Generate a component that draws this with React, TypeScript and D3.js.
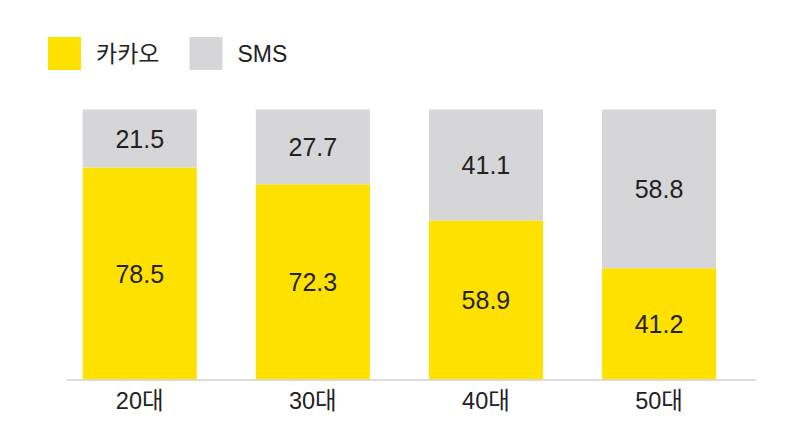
import React from "react";
import * as d3 from "d3";

const categories = ["20대", "30대", "40대", "50대"];
const kakaoValues = [78.5, 72.3, 58.9, 41.2];
const smsValues = [21.5, 27.7, 41.1, 58.8];
const seriesNames = ["카카오", "SMS"];
const seriesColors = ["#FFE100", "#D6D5D7"];

const W = 800;
const H = 432;
const FONT = "'Liberation Sans', Arial, 'Noto Sans CJK KR', sans-serif";
const TEXT = "#222222";

export default function App() {
  const x = d3
    .scaleBand<string>()
    .domain(categories)
    .range([53.2, 745.6])
    .paddingInner(0.341)
    .paddingOuter(0.1705);
  const y = d3.scaleLinear().domain([0, 100]).range([379.5, 109.5]);

  const rows = categories.map((c, i) => ({ c, kakao: kakaoValues[i], sms: smsValues[i] }));
  const stack = d3.stack<any>().keys(["kakao", "sms"])(rows);

  return (
    <svg
      width={W}
      height={H}
      style={{ position: "absolute", left: 0, top: 0, background: "#fff" }}
      fontFamily={FONT}
    >
      <rect x={0} y={0} width={W} height={H} fill="#fff" />
      {stack.map((layer, li) => (
        <g key={layer.key}>
          {layer.map((d, i) => {
            const x0 = x(categories[i])!;
            const yTop = y(d[1]);
            const yBot = y(d[0]);
            const val = li === 0 ? kakaoValues[i] : smsValues[i];
            return (
              <g key={i}>
                <rect x={x0} y={yTop} width={x.bandwidth()} height={yBot - yTop} fill={seriesColors[li]} />
                <text
                  x={x0 + x.bandwidth() / 2}
                  y={(yTop + yBot) / 2}
                  textAnchor="middle"
                  dominantBaseline="central"
                  fontSize={25}
                  fill={TEXT}
                >
                  {val.toFixed(1)}
                </text>
              </g>
            );
          })}
        </g>
      ))}
      <line x1={67} x2={756} y1={y(0) + 0.5} y2={y(0) + 0.5} stroke="#D0D0D0" strokeWidth={1.5} />
      {categories.map((c) => (
        <text
          key={c}
          x={x(c)! + x.bandwidth() / 2}
          y={401}
          textAnchor="middle"
          dominantBaseline="central"
          fontSize={23.5}
          fill={TEXT}
        >
          {c}
        </text>
      ))}
      {seriesNames.map((s, i) => {
        const lx = i === 0 ? 48 : 189.5;
        return (
          <g key={s}>
            <rect x={lx} y={37} width={33} height={33} fill={seriesColors[i]} />
            <text x={lx + 48} y={53.5} dominantBaseline="central" fontSize={23} fill={TEXT}>
              {s}
            </text>
          </g>
        );
      })}
    </svg>
  );
}
